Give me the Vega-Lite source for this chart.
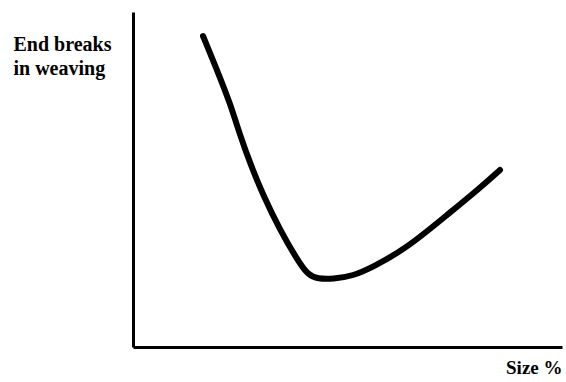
{
  "$schema": "https://vega.github.io/schema/vega-lite/v6.json",
  "width": 429,
  "height": 335,
  "autosize": {"type": "none"},
  "padding": {"left": 133, "top": 12, "right": 4, "bottom": 35},
  "background": "white",
  "config": {"view": {"stroke": null}},
  "data": {"values": [
    {"size": 70, "breaks": 311},
    {"size": 84, "breaks": 277},
    {"size": 97, "breaks": 244},
    {"size": 107, "breaks": 212},
    {"size": 117, "breaks": 184},
    {"size": 130, "breaks": 152},
    {"size": 147, "breaks": 117},
    {"size": 165, "breaks": 86},
    {"size": 175, "breaks": 72},
    {"size": 185, "breaks": 68},
    {"size": 200, "breaks": 68},
    {"size": 220, "breaks": 71},
    {"size": 240, "breaks": 80},
    {"size": 274, "breaks": 99},
    {"size": 314, "breaks": 132},
    {"size": 347, "breaks": 159},
    {"size": 367, "breaks": 177}
  ]},
  "mark": {"type": "line", "color": "black", "strokeWidth": 6, "strokeCap": "round", "strokeJoin": "round", "interpolate": "basis"},
  "encoding": {
    "x": {
      "field": "size", "type": "quantitative",
      "scale": {"domain": [0, 429], "nice": false, "zero": false},
      "axis": {
        "title": "Size %", "grid": false, "ticks": false, "labels": false,
        "domainColor": "black", "domainWidth": 3,
        "titleFont": "Liberation Serif", "titleFontSize": 19, "titleFontWeight": "bold", "titleColor": "black",
        "titleAnchor": "end", "titleAlign": "right", "titleBaseline": "alphabetic",
        "titleX": 429, "titleY": 26
      }
    },
    "y": {
      "field": "breaks", "type": "quantitative",
      "scale": {"domain": [0, 335], "nice": false, "zero": false},
      "axis": {
        "title": ["End breaks", "in weaving"], "grid": false, "ticks": false, "labels": false,
        "domainColor": "black", "domainWidth": 3,
        "titleFont": "Liberation Serif", "titleFontSize": 20, "titleFontWeight": "bold", "titleColor": "black",
        "titleAngle": 0, "titleAlign": "left", "titleBaseline": "alphabetic", "titleLineHeight": 24,
        "titleX": -120, "titleY": 38
      }
    }
  }
}
